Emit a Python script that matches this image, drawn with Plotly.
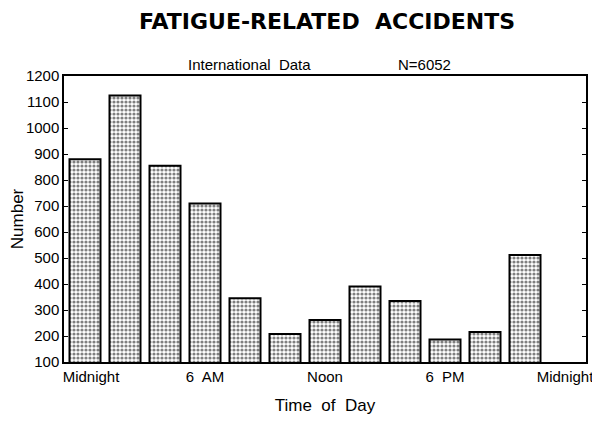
import plotly.graph_objects as go

hours = [0, 2, 4, 6, 8, 10, 12, 14, 16, 18, 20, 22]
accidents = [880, 1125, 855, 710, 345, 208, 262, 390, 335, 187, 215, 512]
tick_hours = [0.3, 6, 12, 18, 24]
tick_labels = ["Midnight", "6  AM", "Noon", "6  PM", "Midnight"]
y_ticks = list(range(100, 1201, 100))

FONT = "Liberation Sans, Arial, sans-serif"

fig = go.Figure()
fig.add_trace(go.Bar(
    x=hours, y=accidents, width=1.55,
    marker=dict(color="white", line=dict(color="black", width=2),
                pattern=dict(shape=".", fgcolor="black", bgcolor="white",
                             size=4, solidity=0.5, fillmode="overlay")),
    showlegend=False,
))

# page body has an 8px margin, so the figure is drawn 8px smaller
fig.update_layout(
    width=592, height=416,
    margin=dict(l=56, r=14, t=68, b=62, autoexpand=False),
    paper_bgcolor="white", plot_bgcolor="white",
    font=dict(family=FONT, color="black", size=14),
    title=dict(text="<b>FATIGUE-RELATED  ACCIDENTS</b>", x=(327 - 8) / 592, xanchor="center",
               y=1 - 6 / 416, yanchor="top", pad=dict(t=0),
               font=dict(size=22, family="DejaVu Sans, sans-serif")),
    xaxis=dict(range=[-1.05, 25.05], tickvals=tick_hours, ticktext=tick_labels,
               showgrid=False, zeroline=False, showline=True, linecolor="black",
               linewidth=1.5, mirror=True, ticks="", tickfont=dict(size=15), automargin=False,
               title=dict(text="Time  of  Day", font=dict(size=17), standoff=15)),
    yaxis=dict(range=[100, 1200], tickvals=y_ticks, showgrid=False, zeroline=False,
               showline=True, linecolor="black", linewidth=1.5, mirror="ticks",
               ticks="inside", ticklen=4, tickcolor="black", tickfont=dict(size=15),
               automargin=False,
               title=dict(text="Number", font=dict(size=17), standoff=6)),
    annotations=[
        dict(text="International  Data", x=0.356, y=1.0, xref="paper", yref="paper",
             xanchor="center", yanchor="bottom", yshift=1, showarrow=False, font=dict(size=15)),
        dict(text="N=6052", x=0.69, y=1.0, xref="paper", yref="paper",
             xanchor="center", yanchor="bottom", yshift=1, showarrow=False, font=dict(size=15)),
    ],
)

fig.write_html("out.html")
